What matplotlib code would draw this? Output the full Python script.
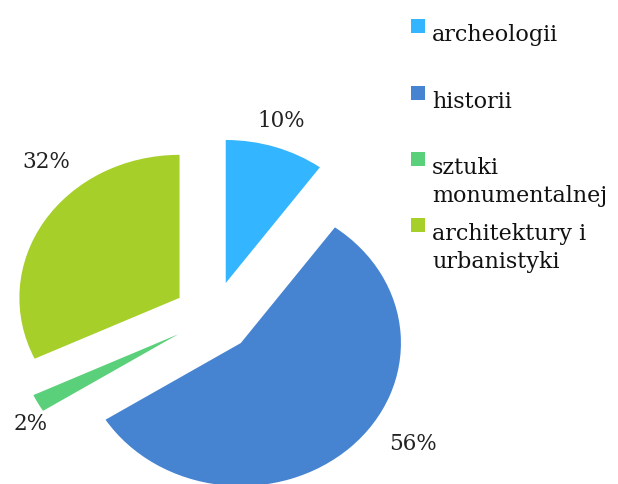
import numpy as np
import matplotlib.pyplot as plt

# dane
kategorie = ['archeologii', 'historii', 'sztuki\nmonumentalnej', 'architektury i\nurbanistyki']
udzialy = [10, 56, 2, 32]
kolory = ['#33B5FF', '#4684D2', '#5BD07A', '#A6CF29']

# uklad (piksele obrazka 618x485, obraz rozciagniety w poziomie)
rozciag = 1.12
srodek = (190.5, 485 - 318)
promien = 143
wysuniecie = 0.25 * promien              # w pie() explode jest w jednostkach danych
katy_etykiet = [17, 123, 236, 319]      # stopnie, zgodnie z zegarem od gory
odl_etykiet = [1.19, 1.28, 1.11, 1.27]
legenda_y = [41, 108, 174, 240]           # linia bazowa pierwszej linii
wiersz = 28                               # odstep linii w legendzie (px)

plt.rcParams['font.family'] = ['DejaVu Serif']

fig = plt.figure(figsize=(6.18, 4.85), dpi=100)
ax = fig.add_axes([0, 0, 1, 1])

wedges, texts, autotexts = ax.pie(udzialy, colors=kolory, startangle=90, counterclock=False,
                                  explode=[wysuniecie] * 4, center=srodek, radius=promien,
                                  autopct='%1.0f%%', textprops={'fontsize': 15.5, 'color': '#222222'},
                                  wedgeprops={'linewidth': 0})
for w, t, a, d in zip(wedges, autotexts, katy_etykiet, odl_etykiet):
    cx, cy = w.center
    r = np.radians(a)
    t.set_position((cx + promien * d * np.sin(r), cy + promien * d * np.cos(r)))
    t.set_ha('center')
    t.set_va('center')

ax.set_aspect('auto')
ax.set_xlim(0, 618 / rozciag)
ax.set_ylim(0, 485)
ax.axis('off')

# legenda
lax = fig.add_axes([0, 0, 1, 1])
lax.set_xlim(0, 618)
lax.set_ylim(485, 0)
lax.axis('off')
for nazwa, kolor, y in zip(kategorie, kolory, legenda_y):
    lax.scatter([418], [y - 14], marker='s', s=95, color=kolor, linewidths=0)
    for i, linia in enumerate(nazwa.split('\n')):
        lax.text(432, y + i * wiersz, linia, fontsize=16, va='baseline', ha='left',
                 color='#111111')

fig.savefig('out.png', dpi=100)
